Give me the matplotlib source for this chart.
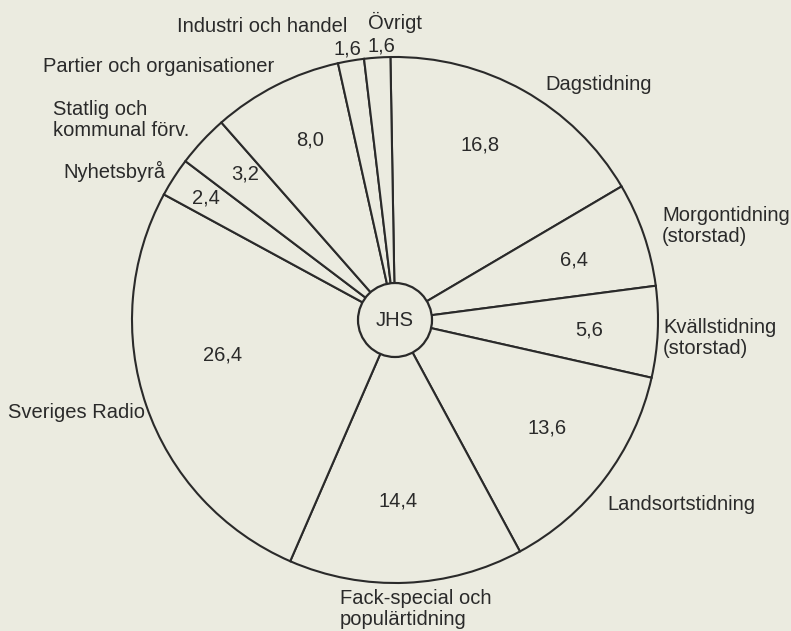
import matplotlib.pyplot as plt
from matplotlib.patches import Circle

plt.rcParams['font.family'] = ['Liberation Sans', 'DejaVu Sans']

# Data: share of items (per cent) by source
categories = ['Dagstidning', 'Morgontidning\n(storstad)', 'Kvällstidning\n(storstad)',
              'Landsortstidning', 'Fack-special och\npopulärtidning', 'Sveriges Radio',
              'Nyhetsbyrå', 'Statlig och\nkommunal förv.', 'Partier och organisationer',
              'Industri och handel', 'Övrigt']
values = [16.8, 6.4, 5.6, 13.6, 14.4, 26.4, 2.4, 3.2, 8.0, 1.6, 1.6]
center_label = 'JHS'

# Layout (pixels, y measured from top of image)
W, H = 791, 631
cx, cy = 395, 320
R, r_hub = 263, 37
cat_pos = [(545, 85), (662, 226), (663, 338), (607, 505), (340, 609), (8, 413),
           (63, 171), (53, 120), (43, 67), (177, 26), (368, 22)]
val_pos = [(480, 145), (574, 260), (589, 330), (547, 428), (398, 501), (223, 355),
           (206, 198), (245, 174), (310, 140), (347, 49), (381, 46)]

paper = '#ebebe0'
ink = '#2a2a2a'
fs = 14.5

fig = plt.figure(figsize=(W / 100, H / 100), dpi=100, facecolor=paper)
ax = fig.add_axes([0, 0, 1, 1])
ax.set_facecolor(paper)

ax.pie(values, startangle=91, counterclock=False, center=(cx, H - cy), radius=R,
       wedgeprops=dict(facecolor=paper, edgecolor=ink, linewidth=1.5), frame=True)

ax.add_patch(Circle((cx, H - cy), r_hub, facecolor=paper, edgecolor=ink, linewidth=1.6, zorder=5))
ax.text(cx, H - cy, center_label, ha='center', va='center', fontsize=fs, color=ink, zorder=6)

for lab, (x, y) in zip(categories, cat_pos):
    ax.text(x, H - y, lab, ha='left', va='center', fontsize=fs, color=ink,
            linespacing=1.1, multialignment='left')

for v, (x, y) in zip(values, val_pos):
    ax.text(x, H - y, f'{v:.1f}'.replace('.', ','), ha='center', va='center',
            fontsize=fs, color=ink)

ax.set_xlim(0, W)
ax.set_ylim(0, H)
ax.set_aspect('equal')
ax.axis('off')

fig.savefig('out.png', dpi=100, facecolor=paper)
